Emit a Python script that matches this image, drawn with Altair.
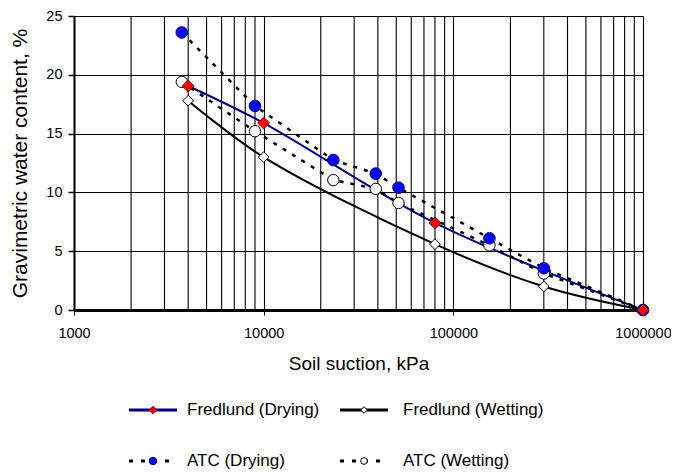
import altair as alt
import pandas as pd

# ---------------- data ----------------
atc_suction = [3700, 9000, 23300, 39000, 51400, 155000, 300000, 1000000]
atc_drying = [23.6, 17.35, 12.75, 11.6, 10.4, 6.1, 3.55, 0.0]
atc_wetting = [19.4, 15.2, 11.05, 10.3, 9.1, 5.5, 3.1, 0.0]

fred_dry_suction = [4000, 10000, 80000, 1000000]
fred_drying = [19.05, 15.9, 7.4, 0.0]
fred_wet_suction = [4000, 10000, 80000, 300000, 1000000]
fred_wetting = [17.8, 13.0, 5.6, 2.0, 0.0]

x_major = [1000, 10000, 100000, 1000000]
x_minor = [m * d for d in (1000, 10000, 100000) for m in range(2, 10)]
y_ticks = [0, 5, 10, 15, 20, 25]

legend_labels = ["Fredlund (Drying)", "Fredlund (Wetting)", "ATC (Drying)", "ATC (Wetting)"]
legend_col = [0, 1, 0, 1]
legend_row = [0, 0, 1, 1]

# ---------------- style ----------------
FONT = "Liberation Sans"
W, H = 569, 294


def xs():
    return alt.Scale(type="log", domain=[1000, 1000000], nice=False)


def ys():
    return alt.Scale(domain=[0, 25], nice=False, zero=False)


x_axis = alt.Axis(
    values=x_major, format="d", title="Soil suction, kPa", orient="bottom",
    grid=True, gridColor="black", gridWidth=1.1, gridOpacity=1,
    domainColor="black", domainWidth=3, tickColor="black", tickSize=5, tickWidth=1,
    labelFont=FONT, labelFontSize=14.5, labelColor="black", labelPadding=11, labelFlush=False,
    titleFont=FONT, titleFontSize=19, titleFontWeight="normal", titleColor="black",
    titlePadding=15,
)
y_axis = alt.Axis(
    values=y_ticks, title="Gravimetric water content, %", orient="left",
    grid=True, gridColor="black", gridWidth=1.1, gridOpacity=1,
    domainColor="black", domainWidth=2, tickColor="black", tickSize=6, tickWidth=1.5,
    labelFont=FONT, labelFontSize=14.5, labelColor="black", labelPadding=6, labelFlush=False,
    titleFont=FONT, titleFontSize=21, titleFontWeight="normal", titleColor="black",
    titlePadding=15,
)

series = {
    "Fredlund (Drying)": dict(line="#000080", width=2, dash=None, interp="catmull-rom",
                              shape="diamond", fill="#FF0000", stroke="#800000", size=140, lsize=55),
    "Fredlund (Wetting)": dict(line="black", width=2, dash=None, interp="catmull-rom",
                               shape="diamond", fill="white", stroke="black", size=115, lsize=45),
    "ATC (Drying)": dict(line="black", width=2.5, dash=[4, 7], interp="linear",
                         shape="circle", fill="#0000FF", stroke="#000080", size=135, lsize=55),
    "ATC (Wetting)": dict(line="black", width=2.5, dash=[4, 7], interp="linear",
                          shape="circle", fill="white", stroke="black", size=130, lsize=45),
}
series_data = {
    "Fredlund (Drying)": (fred_dry_suction, fred_drying),
    "Fredlund (Wetting)": (fred_wet_suction, fred_wetting),
    "ATC (Drying)": (atc_suction, atc_drying),
    "ATC (Wetting)": (atc_suction, atc_wetting),
}

# ---------------- main plot ----------------
axis_layer = alt.Chart(pd.DataFrame({"s": x_minor, "w": [0] * len(x_minor)})).mark_rule(
    color="black", strokeWidth=1.1
).encode(
    x=alt.X("s:Q", scale=xs(), axis=x_axis),
    y=alt.Y("w:Q", scale=ys(), axis=y_axis),
    y2=alt.value(0),
)

line_layers = []
point_layers = []
for name in ["Fredlund (Drying)", "Fredlund (Wetting)", "ATC (Drying)", "ATC (Wetting)"]:
    st = series[name]
    sx, sy = series_data[name]
    df = pd.DataFrame({"s": sx, "w": sy})
    kw = dict(color=st["line"], strokeWidth=st["width"], interpolate=st["interp"])
    if st["dash"]:
        kw["strokeDash"] = st["dash"]
    line_layers.append(
        alt.Chart(df).mark_line(**kw).encode(
            x=alt.X("s:Q", scale=xs(), axis=None),
            y=alt.Y("w:Q", scale=ys(), axis=None),
        )
    )
    point_layers.append(
        alt.Chart(df).mark_point(
            shape=st["shape"], filled=True, fill=st["fill"], stroke=st["stroke"],
            strokeWidth=1, size=st["size"], opacity=1,
        ).encode(
            x=alt.X("s:Q", scale=xs(), axis=None),
            y=alt.Y("w:Q", scale=ys(), axis=None),
        )
    )

# draw order of markers: open circles, blue circles, open diamonds, red diamonds
order = [3, 2, 1, 0]

# ---------------- legend (below the plot) ----------------
leg_layers = []
for lab, c, r in zip(legend_labels, legend_col, legend_row):
    st = series[lab]
    df = pd.DataFrame({"c": [c], "r": [r], "label": [lab]})
    enc = dict(
        x=alt.X("c:Q", scale=alt.Scale(domain=[0, 1], range=[79, 290]), axis=None),
        y=alt.Y("r:Q", scale=alt.Scale(domain=[0, 1], range=[394, 445]), axis=None),
    )
    skw = dict(shape="stroke", size=48 * 48, filled=False, stroke=st["line"],
               strokeWidth=st["width"] + 0.5 if st["dash"] else st["width"] + 1, opacity=1)
    if st["dash"]:
        skw["strokeDash"] = [4, 8]
    leg_layers.append(alt.Chart(df).mark_point(**skw).encode(**enc))
    leg_layers.append(
        alt.Chart(df).mark_point(
            shape=st["shape"], filled=True, fill=st["fill"], stroke=st["stroke"],
            strokeWidth=1, size=st["lsize"], opacity=1,
        ).encode(**enc)
    )
    leg_layers.append(
        alt.Chart(df).mark_text(
            align="left", baseline="middle", dx=34 if c == 0 else 39,
            font=FONT, fontSize=17, color="black",
        ).encode(text="label:N", **enc)
    )

chart = (
    alt.layer(axis_layer, *line_layers, *[point_layers[i] for i in order], *leg_layers)
    .resolve_scale(x="independent", y="independent")
    .properties(
        width=W, height=H,
        autosize=alt.AutoSizeParams(type="none"),
        padding={"left": 66, "top": 8, "right": 28, "bottom": 165},
        background="white",
    )
    .configure_view(stroke=None)
)

chart.save("out.html", embed_options={"renderer": "svg", "actions": False})
